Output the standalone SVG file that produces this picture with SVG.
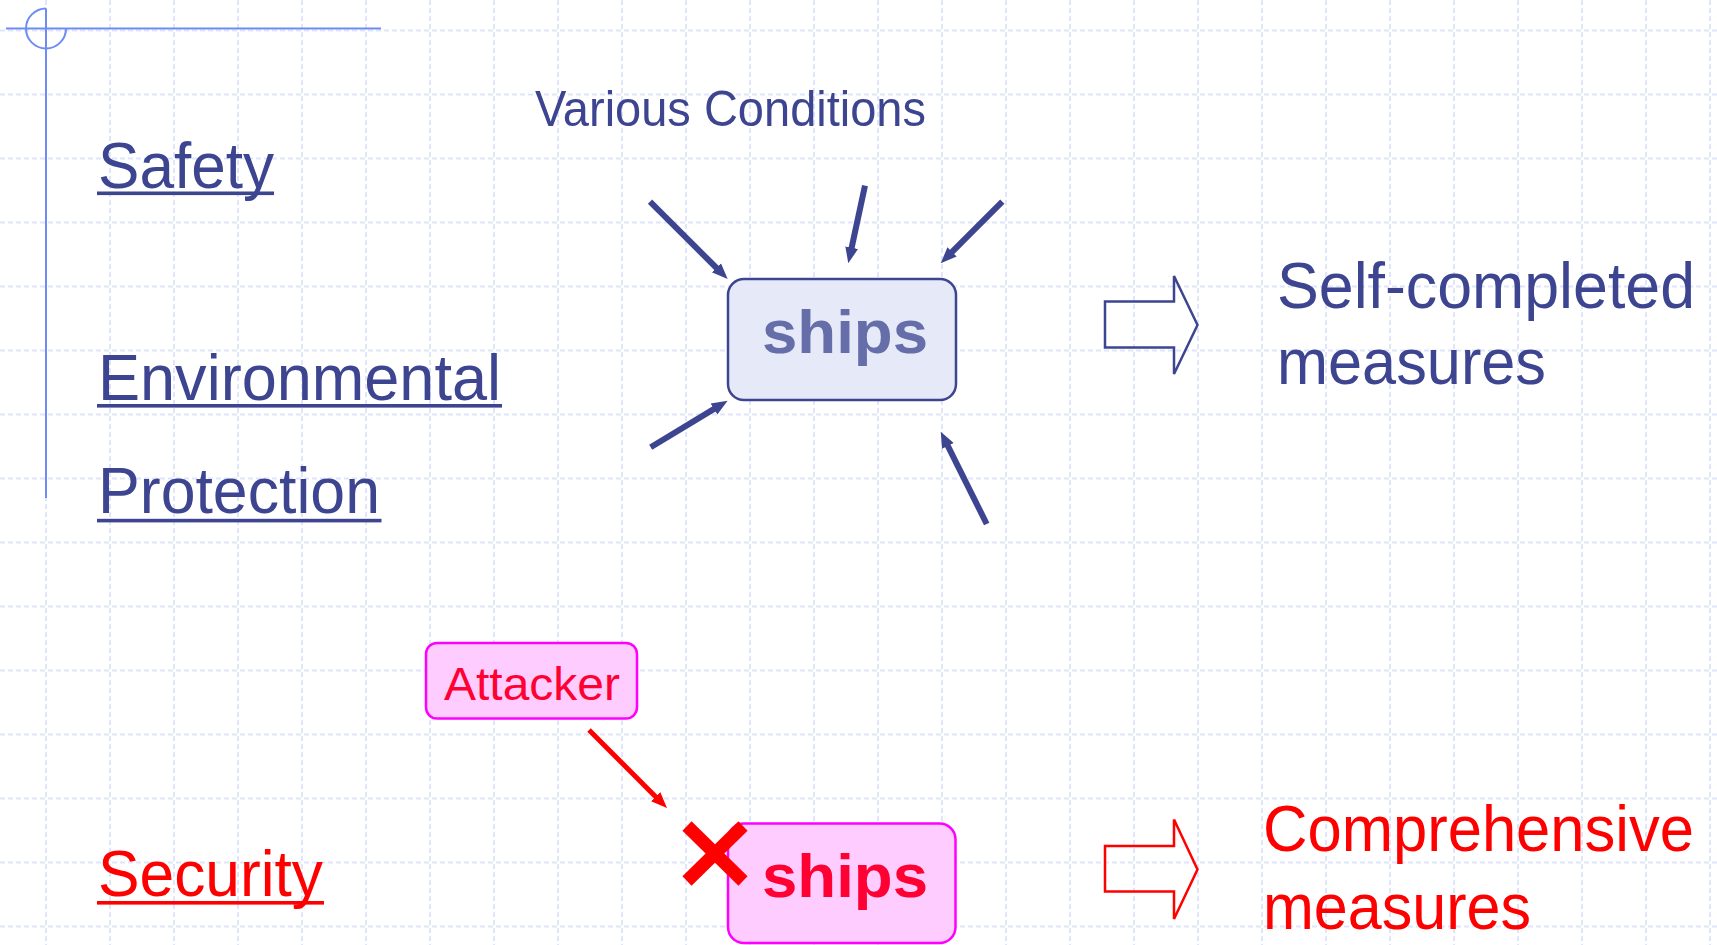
<svg xmlns="http://www.w3.org/2000/svg" width="1717" height="945" viewBox="0 0 1717 945">
<defs>
<style>
.grid{stroke:#dfe5fb;stroke-width:2;stroke-dasharray:5 3;fill:none}
.cross{stroke:#6f8cf5;stroke-width:2;fill:none}
.lbl{font-family:"Liberation Sans",Arial,sans-serif;fill:#3d4591}
.uline{fill:#3d4591}
.red{fill:#ff0000}
.bold{font-family:"Liberation Sans",Arial,sans-serif;font-weight:bold}
.conn{stroke:#3d4591;stroke-width:6;fill:none}
.connr{stroke:#ff0000;stroke-width:5;fill:none}
.blk{stroke:#3d4591;stroke-width:2.5;fill:none}
.blkr{stroke:#ff0000;stroke-width:2.5;fill:none}
</style>
<marker id="ah" markerUnits="userSpaceOnUse" markerWidth="16" markerHeight="16" viewBox="0 0 16 16" refX="6" refY="8" orient="auto">
<path d="M0,1.5 L16,8 L0,14.5 z" fill="#3d4591"/>
</marker>
<marker id="ahr" markerUnits="userSpaceOnUse" markerWidth="16" markerHeight="16" viewBox="0 0 16 16" refX="6" refY="8" orient="auto">
<path d="M0,1.5 L16,8 L0,14.5 z" fill="#ff0000"/>
</marker>
</defs>
<rect width="1717" height="945" fill="#ffffff"/>
<g id="grid" class="grid">
<path d="M46,0V945M110,0V945M174,0V945M238,0V945M302,0V945M366,0V945M430,0V945M494,0V945M558,0V945M622,0V945M686,0V945M750,0V945M814,0V945M878,0V945M942,0V945M1006,0V945M1070,0V945M1134,0V945M1198,0V945M1262,0V945M1326,0V945M1390,0V945M1454,0V945M1518,0V945M1582,0V945M1646,0V945M1710,0V945"/>
<path d="M0,30.5H1717M0,94.5H1717M0,158.5H1717M0,222.5H1717M0,286.5H1717M0,350.5H1717M0,414.5H1717M0,478.5H1717M0,542.5H1717M0,606.5H1717M0,670.5H1717M0,734.5H1717M0,798.5H1717M0,862.5H1717M0,926.5H1717"/>
</g>
<g id="crosshair" class="cross">
<path d="M6,28.5H381"/>
<path d="M46,8.5V498"/>
<path d="M46,8.5 A20,20 0 1,0 66,28.5"/>
</g>
<g id="label-safety">
<text class="lbl" x="98" y="188" font-size="64" textLength="176" lengthAdjust="spacingAndGlyphs">Safety</text>
<rect class="uline" x="97" y="191.5" width="177" height="3.6"/>
</g>
<g id="label-environmental">
<text class="lbl" x="98" y="400" font-size="64" textLength="403" lengthAdjust="spacingAndGlyphs">Environmental</text>
<rect class="uline" x="97" y="404" width="405" height="3.6"/>
<text class="lbl" x="98" y="513" font-size="64" textLength="282" lengthAdjust="spacingAndGlyphs">Protection</text>
<rect class="uline" x="97" y="518.8" width="284.5" height="3.6"/>
</g>
<g id="label-security">
<text class="lbl red" x="98" y="896" font-size="64" textLength="225" lengthAdjust="spacingAndGlyphs">Security</text>
<rect class="red" x="97" y="901" width="227" height="3.6"/>
</g>
<g id="label-conditions"><text class="lbl" x="535" y="126" font-size="50" textLength="391" lengthAdjust="spacingAndGlyphs">Various Conditions</text></g>
<g id="ships-top">
<rect x="728" y="279" width="228" height="121" rx="16" fill="#e6eaf8" stroke="#3d4591" stroke-width="2.5"/>
<text class="bold" x="762" y="352.5" font-size="62" fill="#666ea9" textLength="166" lengthAdjust="spacingAndGlyphs">ships</text>
</g>
<g id="attacker">
<rect x="426" y="643" width="211" height="75.5" rx="11" fill="#ffccff" stroke="#ff00ff" stroke-width="2.5"/>
<text x="444" y="699.5" font-family="Liberation Sans, Arial, sans-serif" font-size="46" fill="#ff0033" textLength="176" lengthAdjust="spacingAndGlyphs">Attacker</text>
</g>
<g id="ships-bottom">
<rect x="728" y="823.5" width="227.5" height="119.5" rx="16" fill="#ffccff" stroke="#ff00ff" stroke-width="2.5"/>
<text class="bold" x="762" y="897" font-size="62" fill="#ff0033" textLength="166" lengthAdjust="spacingAndGlyphs">ships</text>
</g>
<g id="cross-mark" stroke="#ff0000" stroke-width="13" fill="none">
<path d="M687,826 L743,881"/>
<path d="M743,826 L687,881"/>
</g>
<g id="result-top">
<path class="blk" d="M1105,301.5 H1174 V276 L1197.5,325 L1174,374 V347.5 H1105 Z"/>
<text class="lbl" x="1277" y="307.5" font-size="64" textLength="418" lengthAdjust="spacingAndGlyphs">Self-completed</text>
<text class="lbl" x="1277" y="384" font-size="64" textLength="269" lengthAdjust="spacingAndGlyphs">measures</text>
</g>
<g id="result-bottom">
<path class="blkr" d="M1105,846 H1174 V819.5 L1197.5,869.5 L1174,919 V891.5 H1105 Z"/>
<text class="lbl red" x="1263" y="851" font-size="64" textLength="431" lengthAdjust="spacingAndGlyphs">Comprehensive</text>
<text class="lbl red" x="1263" y="928.5" font-size="64" textLength="268" lengthAdjust="spacingAndGlyphs">measures</text>
</g>
<g id="connectors">
<line class="conn" x1="650" y1="201.7" x2="720.6" y2="272" marker-end="url(#ah)"/>
<line class="conn" x1="865" y1="185.7" x2="850.4" y2="253.5" marker-end="url(#ah)"/>
<line class="conn" x1="1002.3" y1="201.7" x2="947.8" y2="256.2" marker-end="url(#ah)"/>
<line class="conn" x1="650.7" y1="447.3" x2="719.1" y2="405.9" marker-end="url(#ah)"/>
<line class="conn" x1="986.7" y1="524" x2="945.2" y2="440.6" marker-end="url(#ah)"/>
<line class="connr" x1="589" y1="730" x2="659.9" y2="800.9" marker-end="url(#ahr)"/>
</g>
</svg>
